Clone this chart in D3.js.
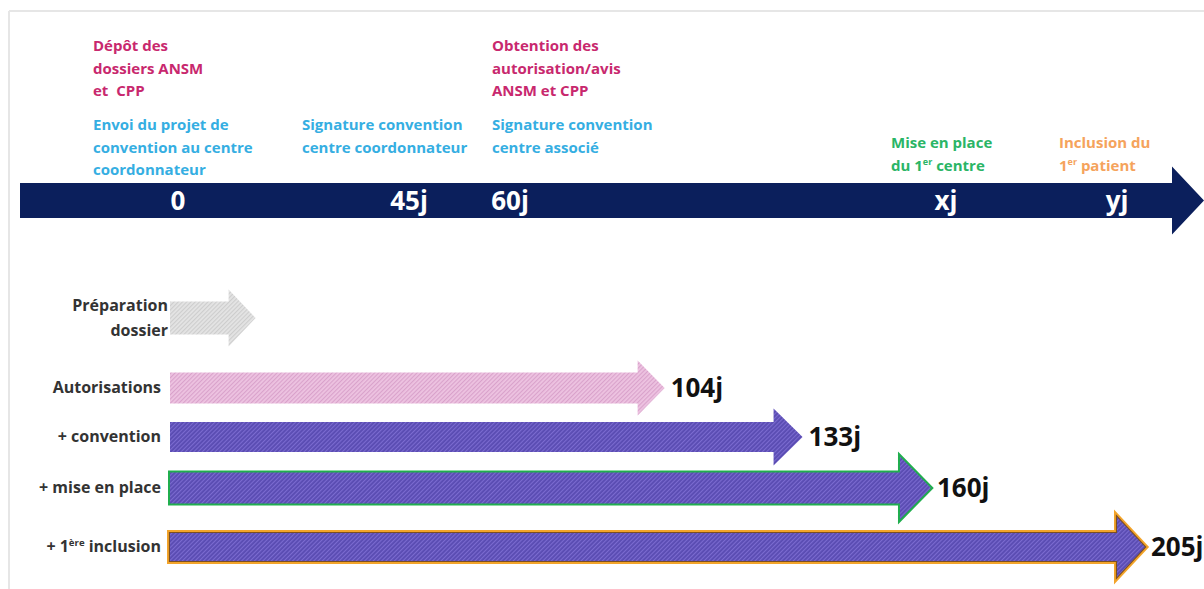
<!DOCTYPE html>
<html>
<head>
<meta charset="utf-8">
<script src="https://cdn.jsdelivr.net/npm/d3@7"></script>
<style>
  body { margin: 0; background: #fff; }
  svg { display: block; }
  text { font-family: "Open Sans", Lato, sans-serif; font-weight: 700; white-space: pre; }
</style>
</head>
<body>
<div class="chart"></div>
<script>
var svgWidth = 1204;
var svgHeight = 589;

// Top timeline: milestones and the notes written above each of them
var milestones = ["0", "45j", "60j", "xj", "yj"];
var pinkNotes = [["Dépôt des", "dossiers ANSM", "et  CPP"], [], ["Obtention des", "autorisation/avis", "ANSM et CPP"], [], []];
var blueNotes = [["Envoi du projet de", "convention au centre", "coordonnateur"], ["Signature convention", "centre coordonnateur"], ["Signature convention", "centre associé"], [], []];
var greenNotes = [[], [], [], ["Mise en place", "du 1^er centre"], []];
var orangeNotes = [[], [], [], [], ["Inclusion du", "1^er patient"]];

// Bottom: cumulative durations (days)
var steps = ["prep", "aut", "conv", "mise", "incl"];
var stepLabels = [["Préparation", "dossier"], ["Autorisations"], ["+ convention"], ["+ mise en place"], ["+ 1^ère inclusion"]];
var stepDays = [18, 104, 133, 160, 205];
var stepValues = ["", "104j", "133j", "160j", "205j"];

var svg = d3.select(".chart")
  .append("svg")
  .attr("width", svgWidth)
  .attr("height", svgHeight);

// hatch patterns
var defs = svg.append("defs");
function hatch(id, base, stripe) {
  var p = defs.append("pattern")
    .attr("id", id)
    .attr("patternUnits", "userSpaceOnUse")
    .attr("width", 3)
    .attr("height", 3)
    .attr("patternTransform", "rotate(45)");
  p.append("rect").attr("width", 3).attr("height", 3).attr("fill", base);
  p.append("rect").attr("width", 1.1).attr("height", 3).attr("fill", stripe);
}
hatch("hGray", "#e4e4e4", "#cdcdcd");
hatch("hPink", "#edc3e1", "#d9a2cb");
hatch("hPurple", "#5a4cb2", "#7b6bd0");

// frame lines
svg.append("line").attr("x1", 9).attr("x2", svgWidth).attr("y1", 11).attr("y2", 11)
  .attr("stroke", "#e6e6e6").attr("stroke-width", 2);
svg.append("line").attr("x1", 9).attr("x2", 9).attr("y1", 11).attr("y2", svgHeight)
  .attr("stroke", "#e6e6e6").attr("stroke-width", 2);

function arrowPath(x0, x1, yc, bh, hh, hl) {
  var p = d3.path();
  p.moveTo(x0, yc - bh / 2);
  p.lineTo(x1 - hl, yc - bh / 2);
  p.lineTo(x1 - hl, yc - hh / 2);
  p.lineTo(x1, yc);
  p.lineTo(x1 - hl, yc + hh / 2);
  p.lineTo(x1 - hl, yc + bh / 2);
  p.lineTo(x0, yc + bh / 2);
  p.closePath();
  return p.toString();
}

// text with "^sup" markers
function richText(sel, str, size) {
  var parts = str.split(/\^(\S+)/);
  var lift = size * 0.35;
  var back = 0;
  parts.forEach(function (t, i) {
    if (!t) return;
    if (i % 2 === 1) {
      sel.append("tspan").attr("font-size", size * 0.6).attr("dy", -lift).text(t);
      back = lift;
    } else {
      sel.append("tspan").attr("dy", back).text(t);
      back = 0;
    }
  });
}

// ===== Top timeline =====
var xMile = d3.scaleOrdinal().domain(milestones).range([178, 409, 510, 946, 1117]);
var xNote = d3.scaleOrdinal().domain(milestones).range([93, 302, 492, 891, 1059]);

svg.append("path")
  .attr("d", arrowPath(20, 1204, 200.5, 35, 68, 32))
  .attr("fill", "#0b1f5c");

svg.selectAll(".mile")
  .data(milestones)
  .enter()
  .append("text")
  .attr("class", "mile")
  .attr("x", d => xMile(d))
  .attr("y", 210)
  .attr("text-anchor", "middle")
  .attr("fill", "#fff")
  .style("font-size", "26px")
  .text(d => d);

function notes(arr, color, y0) {
  arr.forEach(function (lines, i) {
    lines.forEach(function (line, j) {
      var t = svg.append("text")
        .attr("x", xNote(milestones[i]))
        .attr("y", y0 + j * 22.5)
        .attr("fill", color)
        .style("font-size", "15px");
      richText(t, line, 15);
    });
  });
}
notes(pinkNotes, "#c8286e", 51);
notes(blueNotes, "#35aee2", 130);
notes(greenNotes, "#2ab566", 148);
notes(orangeNotes, "#f5a35c", 148);

// ===== Bottom arrows =====
var xDays = d3.scaleLinear().domain([0, 205]).range([170, 1145]);
var yStep = d3.scaleOrdinal().domain(steps).range([318, 388, 437, 488, 547]);

var fills = ["url(#hGray)", "url(#hPink)", "url(#hPurple)", "url(#hPurple)", "url(#hPurple)"];
var strokes = [[], [], [], [["#20ae4e", 4]], [["#f3a42a", 6], ["#7b4f22", 2.2]]];
var bodyH = [33, 31, 30, 31, 28];
var headH = [57, 55, 57, 63, 60];
var headL = [27, 27, 29, 31, 28];

steps.forEach(function (s, i) {
  var d = arrowPath(xDays(0), xDays(stepDays[i]), yStep(s), bodyH[i], headH[i], headL[i]);
  strokes[i].forEach(function (st) {
    svg.append("path").attr("d", d).attr("fill", "none")
      .attr("stroke", st[0]).attr("stroke-width", st[1]).attr("stroke-linejoin", "miter");
  });
  svg.append("path").attr("d", d).attr("fill", fills[i]);
});

// row labels
steps.forEach(function (s, i) {
  var lines = stepLabels[i];
  lines.forEach(function (line, j) {
    var t = svg.append("text")
      .attr("x", xDays(0) - (i === 0 ? 2 : 9))
      .attr("y", yStep(s) + 5 + (j - (lines.length - 1) / 2) * 25)
      .attr("text-anchor", "end")
      .attr("fill", "#333")
      .style("font-size", "16px");
    richText(t, line, 16);
  });
});

// value labels
svg.selectAll(".val")
  .data(steps)
  .enter()
  .append("text")
  .attr("class", "val")
  .attr("x", (d, i) => xDays(stepDays[i]) + 6)
  .attr("y", d => yStep(d) + 9)
  .attr("fill", "#111")
  .style("font-size", "26px")
  .text((d, i) => stepValues[i]);
</script>
</body>
</html>
